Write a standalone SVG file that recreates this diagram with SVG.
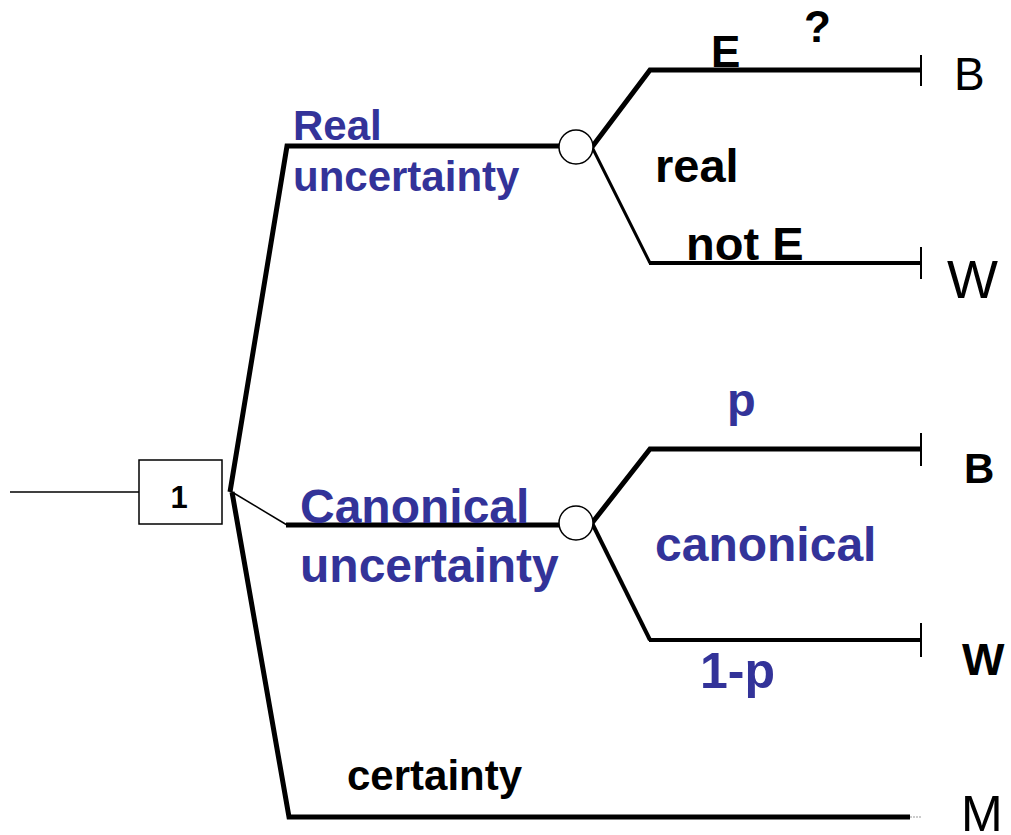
<svg xmlns="http://www.w3.org/2000/svg" width="1011" height="835" viewBox="0 0 1011 835">
<style>
.thick{stroke:#000;stroke-width:5;fill:none;stroke-linejoin:miter}
.mid{stroke:#000;stroke-width:3;fill:none}
.thin{stroke:#000;stroke-width:1.5;fill:none}
.tick{stroke:#000;stroke-width:2;fill:none}
.lb{font-family:"Liberation Sans",Arial,sans-serif;font-weight:bold;fill:#333399}
.kb{font-family:"Liberation Sans",Arial,sans-serif;font-weight:bold;fill:#000}
.kn{font-family:"Liberation Sans",Arial,sans-serif;fill:#000}
.chance{fill:#fff;stroke:#000;stroke-width:1.5}
</style>
<rect width="1011" height="835" fill="#fff"/>
<g id="connectors">
<line class="thin" x1="10" y1="492" x2="148" y2="492"/>
<polyline class="thick" points="230,492 287,146 560,146"/>
<polyline class="thin" points="232,492 287,525"/>
<line class="thick" x1="286" y1="525" x2="560" y2="525"/>
<polyline class="thick" points="232,492 289,817 910,817"/>
<line x1="910" y1="817" x2="922" y2="817" stroke="#999" stroke-width="1" stroke-dasharray="2,1"/>
<polyline class="thick" points="592,147 650,70 920,70"/>
<polyline class="mid" points="592,147 650,263"/>
<line class="thick" x1="649" y1="263" x2="920" y2="263" style="stroke-width:4"/>
<polyline class="thick" points="592,523 650,449 920,449"/>
<polyline class="thick" points="592,523 650,640" style="stroke-width:4"/>
<line class="thick" x1="649" y1="640" x2="920" y2="640" style="stroke-width:4"/>
<line class="tick" x1="921" y1="55" x2="921" y2="86"/>
<line class="tick" x1="921" y1="247" x2="921" y2="279"/>
<line class="tick" x1="921" y1="433" x2="921" y2="466"/>
<line class="tick" x1="921" y1="623" x2="921" y2="657"/>
</g>
<g id="decision1">
<rect x="139" y="460" width="83" height="64" fill="#fff" stroke="#000" stroke-width="1.5"/>
<text class="kb" x="179" y="508" font-size="31" text-anchor="middle">1</text>
</g>
<g id="chance-real">
<circle class="chance" cx="576" cy="147" r="17"/>
</g>
<g id="chance-canonical">
<circle class="chance" cx="576" cy="523" r="17"/>
</g>
<g id="labels">
<text class="lb" x="293" y="140" font-size="42">Real</text>
<text class="lb" x="293" y="191" font-size="42">uncertainty</text>
<text class="lb" x="300" y="523" font-size="48">Canonical</text>
<text class="lb" x="300" y="582" font-size="48">uncertainty</text>
<text class="kb" x="711" y="67" font-size="44">E</text>
<text class="kb" x="804" y="42" font-size="44">?</text>
<text class="kb" x="655" y="182" font-size="47">real</text>
<text class="kb" x="686" y="260" font-size="47">not E</text>
<text class="lb" x="727" y="416" font-size="47">p</text>
<text class="lb" x="655" y="561" font-size="48">canonical</text>
<text class="lb" x="700" y="688" font-size="50">1-p</text>
<text class="kb" x="347" y="790" font-size="42">certainty</text>
</g>
<g id="outcomes">
<text class="kn" x="954" y="90" font-size="46">B</text>
<text class="kn" x="947" y="298" font-size="54">W</text>
<text class="kb" x="964" y="483" font-size="42">B</text>
<text class="kb" x="962" y="675" font-size="45">W</text>
<text class="kn" x="961" y="831" font-size="50">M</text>
</g>
</svg>
